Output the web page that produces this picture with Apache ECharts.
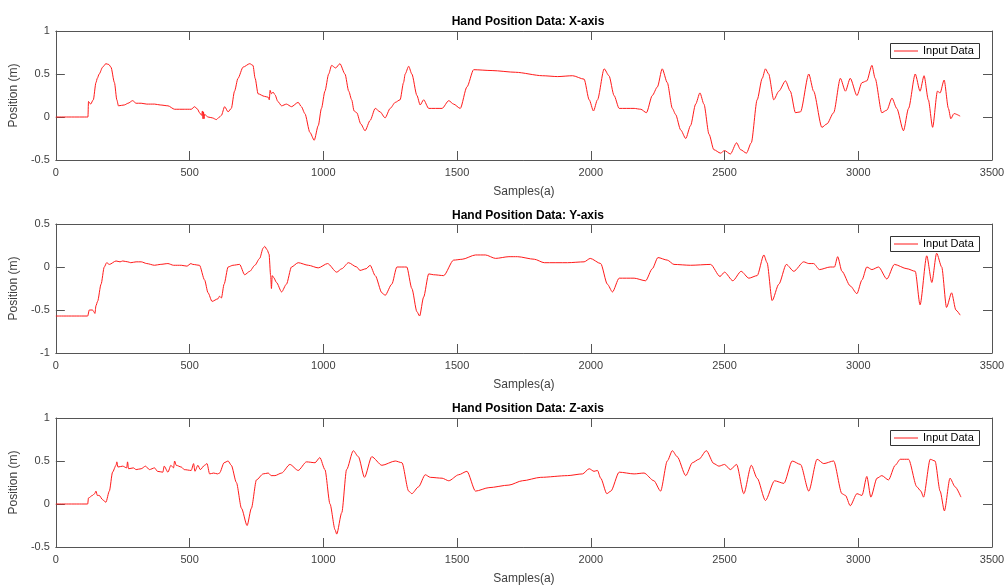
<!DOCTYPE html>
<html>
<head>
<meta charset="utf-8">
<script src="https://cdn.jsdelivr.net/npm/echarts@6/dist/echarts.min.js"></script>
<style>html,body{margin:0;padding:0;background:#fff;}#c{width:1008px;height:587px;}</style>
</head>
<body>
<div id="c"></div>
<script>
// ---- data: [sample, position (m)] ----
const xTicks = [0, 500, 1000, 1500, 2000, 2500, 3000, 3500];
const titles = ['Hand Position Data: X-axis', 'Hand Position Data: Y-axis', 'Hand Position Data: Z-axis'];
const seriesNames = ['Input Data', 'Input Data', 'Input Data'];
const legendLabel = 'Input Data';
const yRanges = [[-0.5, 1], [-1, 0.5], [-0.5, 1]];

const posX = [[0,0],[120,0],[122,0.18],[130,0.15],[140,0.2],[150,0.4],[155,0.45],[162,0.5],[175,0.58],[187,0.62],[198,0.61],[206,0.58],[219,0.4],[228,0.2],[234,0.13],[256,0.14],[270,0.16],[287,0.19],[300,0.16],[319,0.16],[340,0.15],[369,0.15],[390,0.14],[419,0.13],[444,0.09],[480,0.09],[506,0.09],[519,0.12],[530,0.09],[537,0.05],[545,0.02],[548,0.07],[550,-0.02],[552,0.06],[554,-0.02],[556,0.03],[569,0.0],[585,-0.01],[600,-0.03],[612,0.0],[619,0.02],[631,0.12],[644,0.06],[656,0.1],[668,0.3],[681,0.45],[700,0.58],[725,0.62],[737,0.6],[745,0.45],[756,0.27],[780,0.24],[794,0.23],[798,0.2],[801,0.31],[806,0.27],[812,0.29],[819,0.26],[830,0.18],[844,0.13],[862,0.15],[881,0.12],[906,0.17],[918,0.12],[931,0.04],[950,-0.18],[966,-0.27],[981,-0.1],[993,0.1],[1006,0.3],[1020,0.5],[1031,0.6],[1046,0.57],[1062,0.62],[1081,0.5],[1095,0.3],[1106,0.2],[1115,0.07],[1125,0.05],[1140,-0.08],[1156,-0.16],[1175,-0.04],[1194,0.1],[1212,0.06],[1231,-0.01],[1250,0.1],[1269,0.17],[1287,0.2],[1300,0.4],[1306,0.5],[1319,0.59],[1331,0.5],[1350,0.25],[1362,0.14],[1375,0.2],[1394,0.1],[1444,0.1],[1469,0.19],[1487,0.15],[1512,0.1],[1537,0.35],[1562,0.55],[1631,0.54],[1719,0.52],[1819,0.48],[1876,0.47],[1932,0.48],[1975,0.44],[1994,0.2],[2010,0.07],[2025,0.2],[2050,0.56],[2068,0.48],[2087,0.25],[2106,0.1],[2162,0.1],[2187,0.09],[2208,0.05],[2230,0.25],[2249,0.35],[2267,0.56],[2286,0.4],[2305,0.1],[2317,0.03],[2336,-0.15],[2355,-0.25],[2373,-0.1],[2392,0.15],[2408,0.28],[2423,0.15],[2442,-0.2],[2460,-0.38],[2485,-0.42],[2500,-0.39],[2522,-0.43],[2545,-0.3],[2560,-0.38],[2582,-0.42],[2600,-0.3],[2622,0.2],[2641,0.45],[2653,0.56],[2665,0.5],[2684,0.2],[2703,0.3],[2728,0.42],[2746,0.3],[2765,0.05],[2784,0.06],[2815,0.5],[2833,0.3],[2864,-0.12],[2883,-0.08],[2908,0.05],[2933,0.45],[2952,0.3],[2970,0.45],[2995,0.25],[3014,0.4],[3032,0.42],[3051,0.6],[3063,0.45],[3088,0.05],[3107,0.08],[3126,0.22],[3144,0.1],[3169,-0.16],[3188,0.1],[3213,0.5],[3231,0.3],[3246,0.48],[3262,0.2],[3278,-0.12],[3296,0.3],[3306,0.28],[3321,0.43],[3337,0.1],[3346,-0.02],[3358,0.04],[3381,0.01]];

const posY = [[0,-0.57],[119,-0.57],[125,-0.5],[137,-0.5],[142,-0.52],[146,-0.54],[150,-0.45],[156,-0.4],[169,-0.2],[181,0.0],[190,0.05],[200,0.03],[225,0.07],[240,0.06],[250,0.07],[269,0.06],[280,0.05],[300,0.06],[319,0.06],[340,0.04],[369,0.02],[390,0.03],[419,0.04],[440,0.02],[469,0.02],[490,0.01],[505,0.04],[512,0.03],[537,0.02],[556,-0.15],[569,-0.3],[584,-0.4],[606,-0.37],[612,-0.34],[619,-0.36],[629,-0.2],[644,0.0],[662,0.02],[687,0.03],[706,-0.09],[725,-0.05],[744,0.02],[762,0.1],[775,0.22],[781,0.24],[790,0.2],[797,0.15],[803,-0.1],[806,-0.25],[809,-0.1],[814,-0.12],[825,-0.18],[844,-0.29],[862,-0.2],[881,0.0],[906,0.05],[944,0.02],[981,-0.01],[1016,0.04],[1050,-0.06],[1069,-0.02],[1094,0.05],[1125,0.0],[1137,-0.04],[1160,-0.02],[1175,0.02],[1194,-0.1],[1219,-0.3],[1231,-0.33],[1256,-0.2],[1275,0.0],[1312,0.0],[1331,-0.25],[1350,-0.52],[1360,-0.57],[1375,-0.35],[1394,-0.08],[1412,-0.09],[1450,-0.1],[1487,0.08],[1519,0.09],[1569,0.14],[1606,0.14],[1644,0.1],[1694,0.12],[1726,0.12],[1789,0.09],[1826,0.05],[1913,0.05],[1975,0.06],[1998,0.1],[2037,0.04],[2062,-0.2],[2081,-0.29],[2106,-0.13],[2162,-0.13],[2205,-0.16],[2230,-0.02],[2251,0.11],[2286,0.08],[2311,0.03],[2373,0.02],[2448,0.03],[2483,-0.11],[2500,-0.06],[2531,-0.16],[2562,-0.05],[2591,-0.13],[2622,-0.1],[2647,0.14],[2659,0.05],[2678,-0.39],[2703,-0.2],[2731,0.03],[2759,-0.05],[2796,0.06],[2815,0.04],[2833,0.04],[2855,-0.03],[2895,0.0],[2911,0.0],[2923,0.12],[2939,-0.05],[2970,-0.22],[2995,-0.31],[3014,-0.15],[3032,0.0],[3051,-0.03],[3076,0.0],[3107,-0.14],[3135,0.03],[3182,-0.02],[3213,-0.05],[3231,-0.44],[3256,0.13],[3275,-0.18],[3293,0.16],[3312,0.0],[3330,-0.47],[3349,-0.3],[3365,-0.5],[3381,-0.56]];

const posZ = [[0,0],[119,0],[122,0.07],[137,0.1],[145,0.12],[150,0.15],[155,0.1],[162,0.1],[175,0.05],[187,0.02],[200,0.15],[212,0.37],[225,0.45],[228,0.49],[232,0.43],[250,0.44],[265,0.42],[268,0.49],[272,0.41],[290,0.42],[300,0.4],[319,0.41],[335,0.44],[350,0.4],[369,0.42],[380,0.38],[400,0.37],[405,0.44],[419,0.37],[430,0.45],[440,0.42],[444,0.5],[450,0.45],[469,0.43],[480,0.4],[506,0.39],[515,0.47],[520,0.38],[531,0.45],[540,0.4],[556,0.45],[565,0.47],[575,0.35],[590,0.36],[605,0.35],[612,0.36],[629,0.48],[644,0.5],[656,0.45],[675,0.25],[694,-0.05],[715,-0.25],[731,-0.05],[750,0.28],[775,0.35],[794,0.36],[805,0.33],[819,0.33],[844,0.36],[875,0.46],[906,0.39],[937,0.49],[969,0.48],[987,0.54],[1006,0.4],[1025,0.0],[1044,-0.3],[1050,-0.35],[1069,-0.1],[1087,0.4],[1112,0.62],[1131,0.55],[1154,0.31],[1181,0.55],[1219,0.45],[1269,0.5],[1294,0.48],[1319,0.15],[1331,0.12],[1356,0.2],[1381,0.34],[1400,0.31],[1444,0.3],[1469,0.27],[1506,0.34],[1537,0.38],[1569,0.15],[1619,0.19],[1694,0.22],[1744,0.27],[1813,0.31],[1913,0.33],[1969,0.35],[1994,0.41],[2012,0.38],[2025,0.39],[2037,0.3],[2060,0.12],[2075,0.15],[2106,0.37],[2162,0.35],[2199,0.36],[2236,0.27],[2261,0.15],[2286,0.5],[2305,0.62],[2323,0.55],[2355,0.33],[2380,0.48],[2404,0.52],[2432,0.62],[2460,0.47],[2479,0.44],[2500,0.46],[2522,0.4],[2545,0.46],[2572,0.12],[2600,0.45],[2622,0.3],[2653,0.04],[2687,0.27],[2722,0.24],[2753,0.5],[2784,0.46],[2815,0.15],[2846,0.52],[2871,0.47],[2908,0.5],[2939,0.12],[2952,0.1],[2970,-0.02],[2995,0.12],[3014,0.1],[3032,0.32],[3047,0.08],[3070,0.3],[3088,0.33],[3113,0.28],[3138,0.45],[3157,0.52],[3188,0.52],[3219,0.2],[3234,0.15],[3244,0.08],[3269,0.52],[3287,0.5],[3306,0.15],[3322,-0.08],[3343,0.3],[3362,0.2],[3384,0.08]];

const seriesData = [posX, posY, posZ];

// ---- layout / style ----
const FONT = '"Liberation Sans", Arial, sans-serif';
const AXC = '#555555';
const TXC = '#404040';
const LINE = '#ff1a1a';
const gridTops = [31, 224, 418];
const gridH = 129;
const titleTops = [11, 205, 398];

const grids = [], xAxes = [], yAxes = [], series = [], title = [], graphic = [];
for (let i = 0; i < 3; i++) {
  grids.push({ left: 55, right: 16, top: gridTops[i], height: gridH, containLabel: false });
  title.push({
    text: titles[i], left: 523, top: titleTops[i], textAlign: 'center',
    textStyle: { fontFamily: FONT, fontSize: 12, fontWeight: 'bold', color: '#000' }
  });
  const tickCommon = { show: true, inside: true, length: 9, lineStyle: { color: AXC, width: 1 } };
  xAxes.push({
    type: 'value', gridIndex: i, position: 'bottom', min: 0, max: 3500, interval: 500,
    name: 'Samples(a)', nameLocation: 'middle', nameGap: 26,
    nameTextStyle: { fontFamily: FONT, fontSize: 12, color: TXC },
    axisLine: { show: true, onZero: false, lineStyle: { color: AXC, width: 1 } },
    axisTick: tickCommon,
    axisLabel: { fontFamily: FONT, fontSize: 11, color: TXC, margin: 7, formatter: v => String(v) },
    splitLine: { show: false }
  });
  xAxes.push({
    type: 'value', gridIndex: i, position: 'top', min: 0, max: 3500, interval: 500,
    axisLine: { show: true, onZero: false, lineStyle: { color: AXC, width: 1 } },
    axisTick: tickCommon, axisLabel: { show: false }, splitLine: { show: false }
  });
  yAxes.push({
    type: 'value', gridIndex: i, position: 'left', min: yRanges[i][0], max: yRanges[i][1], interval: 0.5,
    name: 'Position (m)', nameLocation: 'middle', nameGap: 28,
    nameTextStyle: { fontFamily: FONT, fontSize: 12, color: TXC },
    axisLine: { show: true, onZero: false, lineStyle: { color: AXC, width: 1 } },
    axisTick: tickCommon,
    axisLabel: { fontFamily: FONT, fontSize: 11, color: TXC, margin: 6,
      formatter: v => (Math.abs(v) < 1e-9 ? '0' : String(Math.round(v * 10) / 10)) },
    splitLine: { show: false }
  });
  yAxes.push({
    type: 'value', gridIndex: i, position: 'right', min: yRanges[i][0], max: yRanges[i][1], interval: 0.5,
    axisLine: { show: true, onZero: false, lineStyle: { color: AXC, width: 1 } },
    axisTick: tickCommon, axisLabel: { show: false }, splitLine: { show: false }
  });
  series.push({
    name: seriesNames[i], type: 'line', xAxisIndex: 2 * i, yAxisIndex: 2 * i,
    data: seriesData[i], showSymbol: false, smooth: 0.25, smoothMonotone: 'x',
    lineStyle: { color: LINE, width: 1 }, itemStyle: { color: LINE },
    animation: false
  });
  // legend box (MATLAB style) drawn as a graphic group in the upper right of each panel
  graphic.push({
    type: 'group', left: 890, top: gridTops[i] + 12, z: 100,
    children: [
      { type: 'rect', shape: { x: 0.5, y: 0.5, width: 89, height: 15 },
        style: { fill: '#fff', stroke: '#333', lineWidth: 1 } },
      { type: 'line', shape: { x1: 4, y1: 8, x2: 28, y2: 8 },
        style: { stroke: LINE, lineWidth: 1 } },
      { type: 'text', x: 33, y: 8,
        style: { text: legendLabel, fill: '#000', font: '11px ' + FONT, textVerticalAlign: 'middle', verticalAlign: 'middle' } }
    ]
  });
}

const chart = echarts.init(document.getElementById('c'), null, { renderer: 'canvas' });
chart.setOption({
  backgroundColor: '#fff', animation: false,
  title, grid: grids, xAxis: xAxes, yAxis: yAxes, series, graphic
});
</script>
</body>
</html>
